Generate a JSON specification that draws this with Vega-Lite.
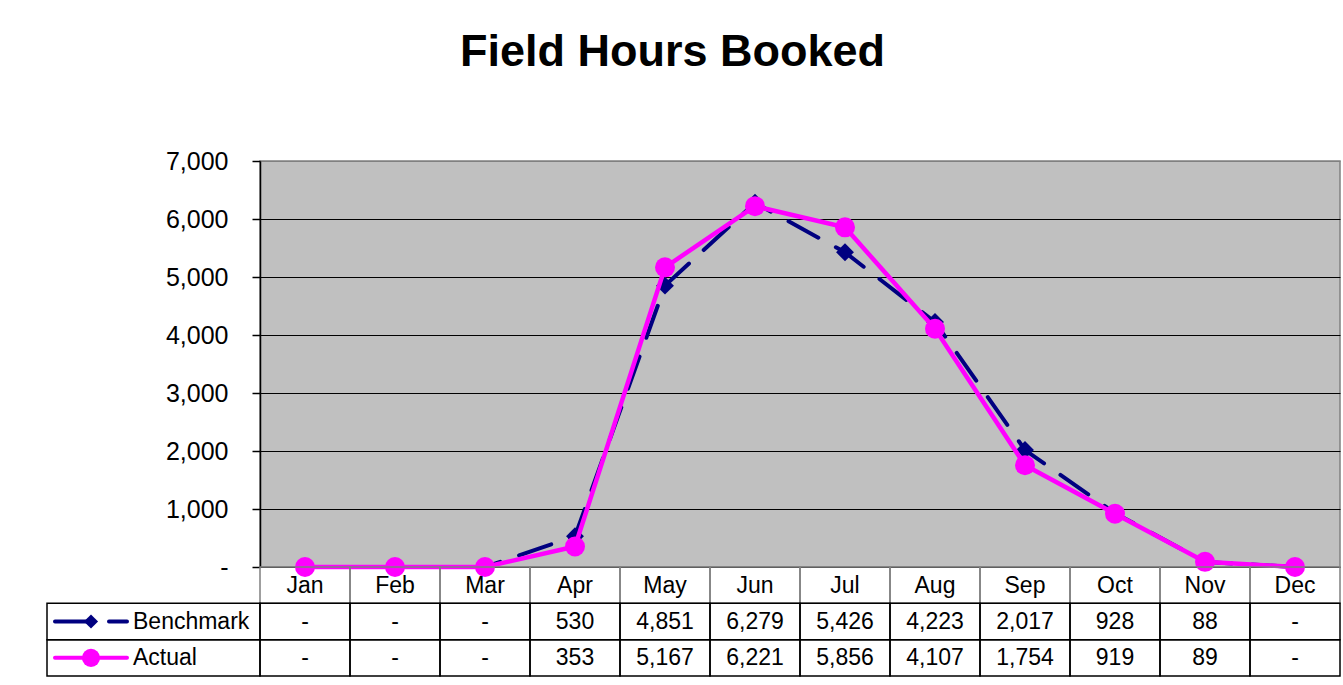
{
  "$schema": "https://vega.github.io/schema/vega-lite/v6.json",
  "background": "white",
  "padding": {"left": 46, "top": 30, "right": 0, "bottom": 5},
  "title": {"text": "Field Hours Booked", "fontSize": 45, "font": "Liberation Sans", "fontWeight": "bold", "color": "#000000", "anchor": "middle", "dx": -21, "offset": 73},
  "data": {"values": [
    {"series": "Benchmark", "month": "Jan", "value": 0},
    {"series": "Benchmark", "month": "Feb", "value": 0},
    {"series": "Benchmark", "month": "Mar", "value": 0},
    {"series": "Benchmark", "month": "Apr", "value": 530},
    {"series": "Benchmark", "month": "May", "value": 4851},
    {"series": "Benchmark", "month": "Jun", "value": 6279},
    {"series": "Benchmark", "month": "Jul", "value": 5426},
    {"series": "Benchmark", "month": "Aug", "value": 4223},
    {"series": "Benchmark", "month": "Sep", "value": 2017},
    {"series": "Benchmark", "month": "Oct", "value": 928},
    {"series": "Benchmark", "month": "Nov", "value": 88},
    {"series": "Benchmark", "month": "Dec", "value": 0},
    {"series": "Actual", "month": "Jan", "value": 0},
    {"series": "Actual", "month": "Feb", "value": 0},
    {"series": "Actual", "month": "Mar", "value": 0},
    {"series": "Actual", "month": "Apr", "value": 353},
    {"series": "Actual", "month": "May", "value": 5167},
    {"series": "Actual", "month": "Jun", "value": 6221},
    {"series": "Actual", "month": "Jul", "value": 5856},
    {"series": "Actual", "month": "Aug", "value": 4107},
    {"series": "Actual", "month": "Sep", "value": 1754},
    {"series": "Actual", "month": "Oct", "value": 919},
    {"series": "Actual", "month": "Nov", "value": 89},
    {"series": "Actual", "month": "Dec", "value": 0}
  ]},
  "vconcat": [
    {
      "width": 1080,
      "height": 406,
      "view": {"fill": "#c0c0c0", "stroke": "#808080", "strokeWidth": 1.5},
      "encoding": {
        "x": {"field": "month", "type": "ordinal", "sort": ["Jan","Feb","Mar","Apr","May","Jun","Jul","Aug","Sep","Oct","Nov","Dec"], "scale": {"type": "point", "padding": 0.5}, "axis": null},
        "y": {"field": "value", "type": "quantitative", "scale": {"domain": [0, 7000], "nice": false},
          "axis": {"values": [0,1000,2000,3000,4000,5000,6000,7000], "title": null, "grid": true,
            "gridColor": {"condition": {"test": "datum.value === 7000", "value": "#808080"}, "value": "#000000"},
            "gridWidth": 1, "domainColor": "#000000", "domainWidth": 1.5, "tickColor": "#000000", "tickSize": 8, "tickWidth": 1.5,
            "labelFont": "Liberation Sans", "labelFontSize": 25, "labelColor": "#000000", "labelPadding": 24,
            "labelExpr": "datum.value === 0 ? '-\u00a0\u00a0' : format(datum.value, ',')"}}
      },
      "layer": [
        {"transform": [{"filter": "datum.series === 'Benchmark'"}],
         "mark": {"type": "line", "color": "#000080", "strokeWidth": 4, "strokeDash": [34, 20], "strokeCap": "round"}},
        {"transform": [{"filter": "datum.series === 'Benchmark'"}],
         "mark": {"type": "point", "shape": "diamond", "filled": true, "size": 320, "color": "#000080", "opacity": 1}},
        {"transform": [{"filter": "datum.series === 'Actual'"}],
         "mark": {"type": "line", "color": "#ff00ff", "strokeWidth": 4.5}},
        {"transform": [{"filter": "datum.series === 'Actual'"}],
         "mark": {"type": "point", "shape": "circle", "filled": true, "size": 400, "color": "#ff00ff", "opacity": 1}}
      ]
    },
    {
      "width": 1080,
      "height": 109,
      "view": {"stroke": null},
      "encoding": {
        "x": {"field": "month", "type": "ordinal", "sort": ["Jan","Feb","Mar","Apr","May","Jun","Jul","Aug","Sep","Oct","Nov","Dec"], "scale": {"type": "band", "paddingInner": 0, "paddingOuter": 0}, "axis": null},
        "y": {"field": "series", "type": "nominal", "scale": {"type": "band", "domain": ["Month", "Benchmark", "Actual"], "paddingInner": 0, "paddingOuter": 0}, "axis": null}
      },
      "layer": [
        {"transform": [{"filter": "datum.series === 'Actual'"}],
         "mark": {"type": "rect", "fill": "white", "fillOpacity": 0, "stroke": "#808080", "strokeWidth": 1.5},
         "encoding": {"y": {"datum": "Month"}}},
        {"mark": {"type": "rect", "fill": "white", "fillOpacity": 0, "stroke": "#000000", "strokeWidth": 1.5}},
        {"transform": [{"filter": "datum.month === 'Jan'"}],
         "mark": {"type": "rect", "fill": "white", "fillOpacity": 0, "stroke": "#000000", "strokeWidth": 1.5, "xOffset": -213},
         "encoding": {"x": {"datum": "Jan", "bandPosition": 0}, "x2": {"datum": "Jan", "bandPosition": 0}}},
        {"transform": [{"filter": "datum.series === 'Actual'"}],
         "mark": {"type": "text", "font": "Liberation Sans", "fontSize": 23, "color": "#000000", "baseline": "middle", "dy": 1},
         "encoding": {"y": {"datum": "Month"}, "text": {"field": "month"}}},
        {"mark": {"type": "text", "font": "Liberation Sans", "fontSize": 23, "color": "#000000", "baseline": "middle"},
         "encoding": {"text": {"condition": {"test": "datum.value === 0", "value": "-"}, "field": "value", "type": "quantitative", "format": ","}}},
        {"transform": [{"filter": "datum.month === 'Jan'"}],
         "mark": {"type": "rule", "strokeWidth": 4, "xOffset": -205, "x2Offset": -133, "strokeCap": "round"},
         "encoding": {"x": {"datum": "Jan", "bandPosition": 0}, "x2": {"datum": "Jan", "bandPosition": 0},
           "color": {"field": "series", "scale": {"domain": ["Benchmark", "Actual"], "range": ["#000080", "#ff00ff"]}, "legend": null},
           "strokeDash": {"field": "series", "scale": {"domain": ["Benchmark", "Actual"], "range": [[34, 20], [1, 0]]}, "legend": null}}},
        {"transform": [{"filter": "datum.month === 'Jan'"}],
         "mark": {"type": "point", "filled": true, "opacity": 1, "xOffset": -169},
         "encoding": {"x": {"datum": "Jan", "bandPosition": 0},
           "color": {"field": "series", "scale": {"domain": ["Benchmark", "Actual"], "range": ["#000080", "#ff00ff"]}, "legend": null},
           "shape": {"field": "series", "scale": {"domain": ["Benchmark", "Actual"], "range": ["diamond", "circle"]}, "legend": null},
           "size": {"field": "series", "scale": {"domain": ["Benchmark", "Actual"], "range": [200, 330]}, "legend": null}}},
        {"transform": [{"filter": "datum.month === 'Jan'"}],
         "mark": {"type": "text", "font": "Liberation Sans", "fontSize": 23, "color": "#000000", "baseline": "middle", "align": "left", "dx": -127},
         "encoding": {"x": {"datum": "Jan", "bandPosition": 0}, "text": {"field": "series"}}}
      ]
    }
  ],
  "spacing": 0,
  "bounds": "flush",
  "config": {"font": "Liberation Sans"}
}
